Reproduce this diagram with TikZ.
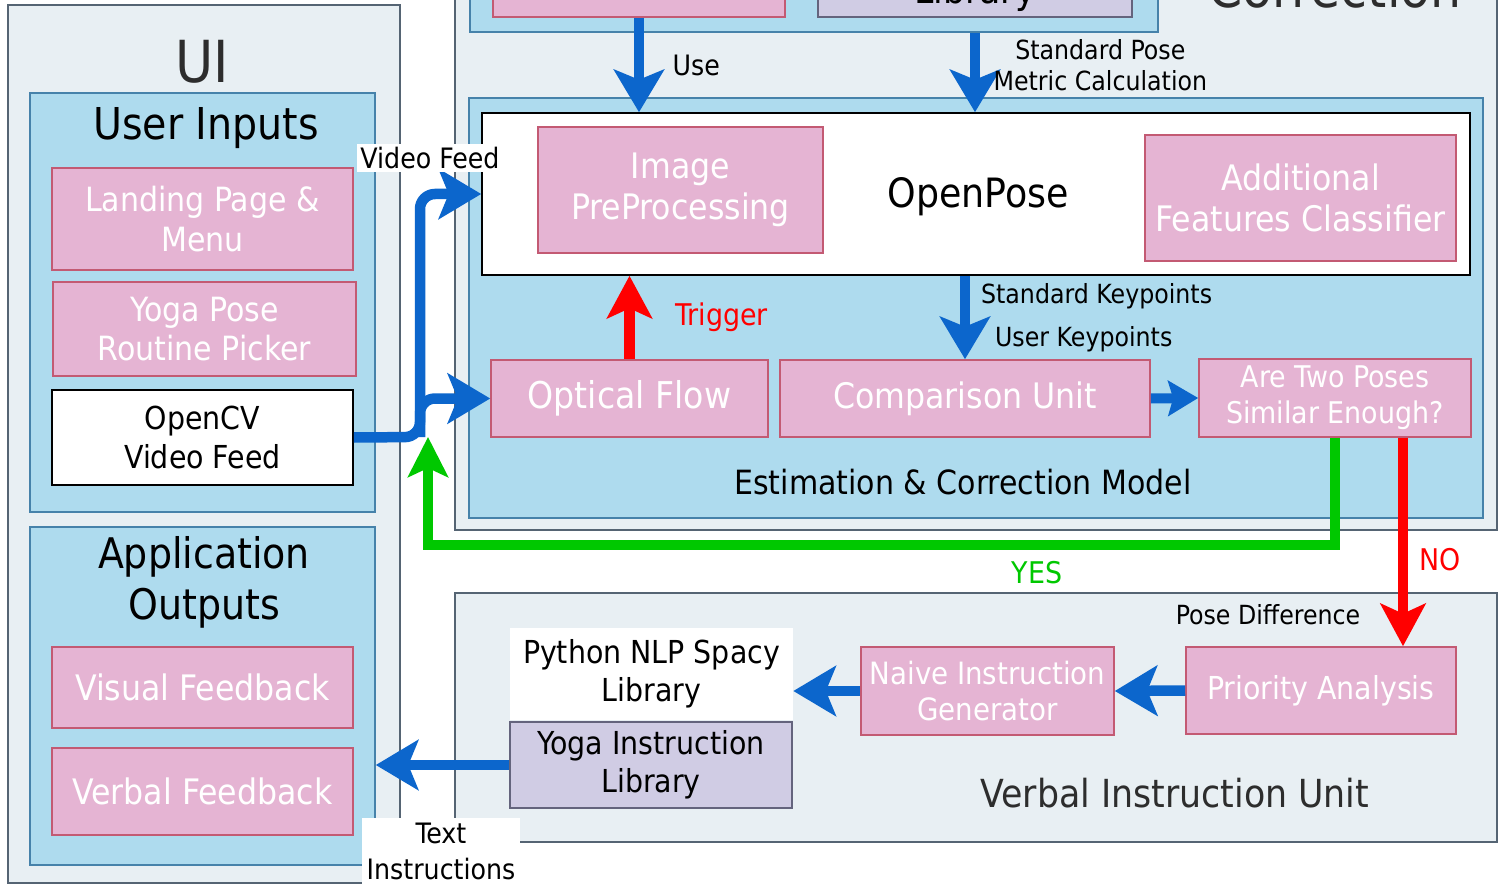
\documentclass[tikz,border=0pt]{standalone}
\usepackage{fontspec}
\setmainfont{DejaVu Sans Condensed}
\usetikzlibrary{fit,arrows.meta,positioning}

\definecolor{paneBg}{RGB}{232,239,243}
\definecolor{paneEdge}{RGB}{85,100,115}
\definecolor{groupBg}{RGB}{174,219,238}
\definecolor{groupEdge}{RGB}{70,130,170}
\definecolor{pinkBg}{RGB}{229,180,211}
\definecolor{pinkEdge}{RGB}{195,90,115}
\definecolor{lilacBg}{RGB}{208,204,228}
\definecolor{lilacEdge}{RGB}{100,100,125}
\definecolor{arrowBlue}{RGB}{12,102,204}
\definecolor{yesGreen}{RGB}{0,200,0}
\definecolor{titleGray}{RGB}{45,45,45}

\tikzset{
  sz/.style args={#1/#2}{font=\fontsize{#1}{#2}\selectfont},
  panel/.style={draw=paneEdge, fill=paneBg, line width=0.9pt, inner sep=0pt},
  group/.style={draw=groupEdge, fill=groupBg, line width=0.9pt, inner sep=0pt},
  pinkbox/.style={draw=pinkEdge, fill=pinkBg, inner sep=0pt, line width=0.9pt},
  lilacbox/.style={draw=lilacEdge, fill=lilacBg, inner sep=0pt, line width=0.9pt},
  whitebox/.style={draw=black, fill=white, inner sep=0pt, line width=0.9pt},
  intext/.style={align=center, inner sep=0pt},
  wtext/.style={intext, text=white},
  bluearrow/.style={draw=arrowBlue, line width=0.21cm, -{Stealth[length=0.85cm,width=1.0cm,inset=0.2cm]}},
  smallarrow/.style={draw=arrowBlue, line width=0.2cm, -{Stealth[length=0.6cm,width=0.7cm,inset=0.1cm]}},
  redarrow/.style={draw=red, line width=0.21cm, -{Stealth[length=0.85cm,width=0.9cm,inset=0.2cm]}},
  greenarrow/.style={draw=yesGreen, line width=0.2cm, -{Stealth[length=0.8cm,width=0.8cm,inset=0.18cm]}},
}

\begin{document}
\begin{tikzpicture}[x=0.02cm,y=-0.02cm]
\useasboundingbox (0,0) rectangle (1504,885);
\clip (0,0) rectangle (1504,885);
\fill[white] (0,0) rectangle (1504,885);

% UI column
\node[panel, fit={(8,5) (400,883)}] (ui) {};
\node[sz=33/38, text=titleGray] at (202,62) {UI};
\node[group, fit={(30,93) (375,512)}] (inp) {};
\node[sz=25/30] at (206,128) {User Inputs};
\node[pinkbox, fit={(52,168) (353,270)}] (land) {};
\node[wtext, sz=19/22.5] at (land) {Landing Page \&\\Menu};
\node[pinkbox, fit={(53,282) (356,376)}] (pick) {};
\node[wtext, sz=19/22.5] at (pick) {Yoga Pose\\Routine Picker};
\node[whitebox, fit={(52,390) (353,485)}] (cv) {};
\node[intext, sz=18/22.5] at (cv) {OpenCV\\Video Feed};
\node[group, fit={(30,527) (375,865)}] (out) {};
\node[intext, sz=24/29] at (204,582) {Application\\Outputs};
\node[pinkbox, fit={(52,647) (353,728)}] (vis) {};
\node[wtext, sz=20/24] at (vis) {Visual Feedback};
\node[pinkbox, fit={(52,748) (353,835)}] (verb) {};
\node[wtext, sz=20/24] at (verb) {Verbal Feedback};

% estimation and correction
\node[panel, fit={(455,-60) (1497,530)}] (corr) {};
\node[group, fit={(470,-60) (1158,32)}] (top) {};
\node[pinkbox, fit={(493,-60) (785,17)}] (usebox) {};
\node[lilacbox, fit={(818,-60) (1132,17)}] (stdlib) {};
\node[sz=22/26, anchor=base] at (975,4) {Library};
\node[sz=31/36, anchor=base, text=titleGray] at (1335,8) {Correction};

\node[group, fit={(469,98) (1483,518)}] (est) {};
\node[whitebox, fit={(482,113) (1470,275)}] (op) {};
\node[sz=23/28] at (978,197) {OpenPose};
\node[pinkbox, fit={(538,127) (823,253)}] (img) {};
\node[wtext, sz=20/23.5] at (img) {Image\\PreProcessing};
\node[pinkbox, fit={(1145,135) (1456,261)}] (feat) {};
\node[wtext, sz=20/23.5] at (feat) {Additional\\Features Classifier};
\node[pinkbox, fit={(491,360) (768,437)}] (optflow) {};
\node[wtext, sz=21/25] at (optflow) {Optical Flow};
\node[pinkbox, fit={(780,360) (1150,437)}] (cmp) {};
\node[wtext, sz=20/24] at (cmp) {Comparison Unit};
\node[pinkbox, fit={(1199,359) (1471,437)}] (sim) {};
\node[wtext, sz=17/20.5] at (sim) {Are Two Poses\\Similar Enough?};
\node[sz=19/23] at (963,482) {Estimation \& Correction Model};

% verbal instruction unit
\node[panel, fit={(455,593) (1497,842)}] (vi) {};
\node[sz=22/26, text=titleGray] at (1175,793) {Verbal Instruction Unit};
\node[sz=15/18] at (1268,615) {Pose Difference};
\node[pinkbox, fit={(1186,647) (1456,734)}] (pri) {};
\node[wtext, sz=18/22] at (pri) {Priority Analysis};
\node[pinkbox, fit={(861,647) (1114,735)}] (gen) {};
\node[wtext, sz=17.5/21] at (gen) {Naive Instruction\\Generator};
\node[fill=white, inner sep=0pt, fit={(510,628) (793,720)}] (nlp) {};
\node[intext, sz=18/21.5] at (nlp) {Python NLP Spacy\\Library};
\node[lilacbox, fit={(510,722) (792,808)}] (ylib) {};
\node[intext, sz=18/21.5] at (ylib) {Yoga Instruction\\Library};

% connectors
\coordinate (split) at (420,437);
\coordinate (yesbend) at (428,545);
\coordinate (nox) at (1403,0);
\draw[bluearrow] (usebox.south) -- node[anchor=west, xshift=0.45cm, sz=16/20] {Use} (usebox.south |- op.north);
\draw[bluearrow] (top.south -| stdlib.south) -- node[anchor=west, xshift=0.15cm, yshift=0.15cm, sz=15/18, align=center] {Standard Pose\\Metric Calculation} (stdlib.south |- op.north);
\draw[bluearrow, rounded corners=0.3cm] (cv.east) -- (split) |- (op.west);
\draw[bluearrow, rounded corners=0.3cm] (split) |- (optflow.west);
\draw[redarrow] (optflow.north) -- node[anchor=west, xshift=0.7cm, sz=17/20, text=red] {Trigger} (optflow.north |- op.south);
\draw[bluearrow] (op.south -| cmp.north) -- node[pos=0.25, anchor=west, xshift=0.1cm, sz=15/18] {Standard Keypoints}
  node[pos=0.76, anchor=west, xshift=0.38cm, sz=15/18] {User Keypoints} (cmp.north);
\draw[smallarrow] (cmp.east) -- (sim.west);
\draw[greenarrow] (sim.south) |- (yesbend) -- (yesbend |- split);
\draw[redarrow] (sim.south -| nox) -- (pri.north -| nox);
\draw[bluearrow] (pri.west) -- (gen.east);
\draw[bluearrow] (gen.west) -- (gen.west -| nlp.east);
\draw[bluearrow] (ylib.west) -- (out.east |- ylib.west);

% labels on top
\node[fill=white, sz=16/20, inner sep=2pt] at (430,158) {Video Feed};
\node[sz=17/20, text=yesGreen] at (1037,573) {YES};
\node[sz=17/20, text=red] at (1440,560) {NO};
\node[fill=white, inner sep=0pt, fit={(362,818) (520,885)}] (txt) {};
\node[intext, sz=16/20] at (txt) {Text\\Instructions};
\end{tikzpicture}
\end{document}
